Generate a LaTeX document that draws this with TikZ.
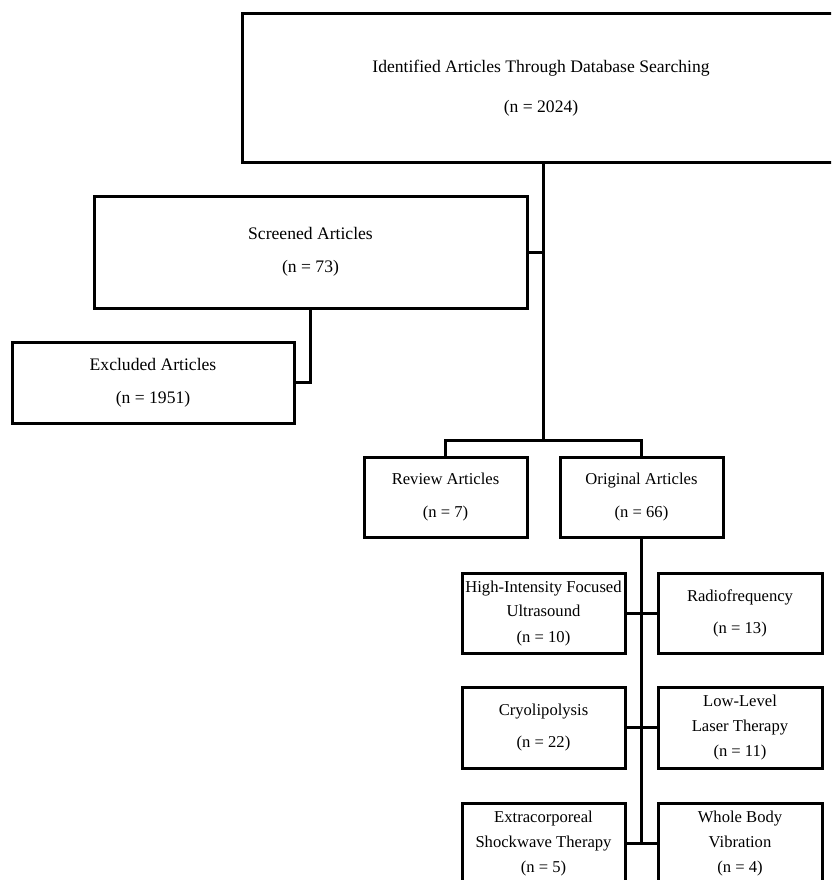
\documentclass[tikz,border=0pt]{standalone}
\usepackage{fontspec}
\setmainfont{Liberation Serif}
\begin{document}
\begin{tikzpicture}[x=1pt,y=-1pt,
  box/.style={draw,line width=3pt,inner sep=0pt,align=center,font=\fontsize{16.6}{19}\selectfont},
  bigbox/.style={box,font=\fontsize{17.6}{20}\selectfont},
  link/.style={line width=3pt}]
\useasboundingbox (0,0) rectangle (831,880);
\begin{scope}
\clip (0,0) rectangle (831,880);
\node[bigbox,minimum width=598pt,minimum height=148pt] (top) at (541,88)
  {Identified Articles Through Database Searching\\[20pt](n = 2024)};
\node[bigbox,minimum width=433pt,minimum height=112pt] (scr) at (310.5,252)
  {Screened Articles\\[13pt](n = 73)};
\node[bigbox,minimum width=282pt,minimum height=81pt] (exc) at (153,382.5)
  {Excluded Articles\\[13pt](n = 1951)};
\node[box,minimum width=163pt,minimum height=80pt] (rev) at (445.5,497)
  {Review Articles\\[14pt](n = 7)};
\node[box,minimum width=163pt,minimum height=80pt] (orig) at (641.5,497)
  {Original Articles\\[14pt](n = 66)};
\node[box,minimum width=163pt,minimum height=80pt] (hifu) at (543.5,613)
  {High-Intensity Focused\\[6pt]Ultrasound\\[6pt](n = 10)};
\node[box,minimum width=164pt,minimum height=80pt] (rf) at (740,613)
  {Radiofrequency\\[13pt](n = 13)};
\node[box,minimum width=163pt,minimum height=81pt] (cryo) at (543.5,727.5)
  {Cryolipolysis\\[13pt](n = 22)};
\node[box,minimum width=164pt,minimum height=81pt] (lllt) at (740,727.5)
  {Low-Level\\[6pt]Laser Therapy\\[6pt](n = 11)};
\node[box,minimum width=163pt,minimum height=81pt] (ecs) at (543.5,843.5)
  {Extracorporeal\\[6pt]Shockwave Therapy\\[6pt](n = 5)};
\node[box,minimum width=164pt,minimum height=81pt] (wbv) at (740,843.5)
  {Whole Body\\[6pt]Vibration\\[6pt](n = 4)};
\coordinate (j1) at (543,440);
\draw[link] (top.south -| j1) -- (j1);
\draw[link] (scr.east) -- (scr.east -| j1);
\draw[link] (scr.south) |- (exc.east);
\draw[link] (rev.north) |- (j1 -| orig.north) -- (orig.north);
\draw[link] (orig.south) -- (orig.south |- ecs.east);
\draw[link] (hifu.east) -- (rf.west);
\draw[link] (cryo.east) -- (lllt.west);
\draw[link] (ecs.east) -- (wbv.west);
\end{scope}
\end{tikzpicture}
\end{document}
